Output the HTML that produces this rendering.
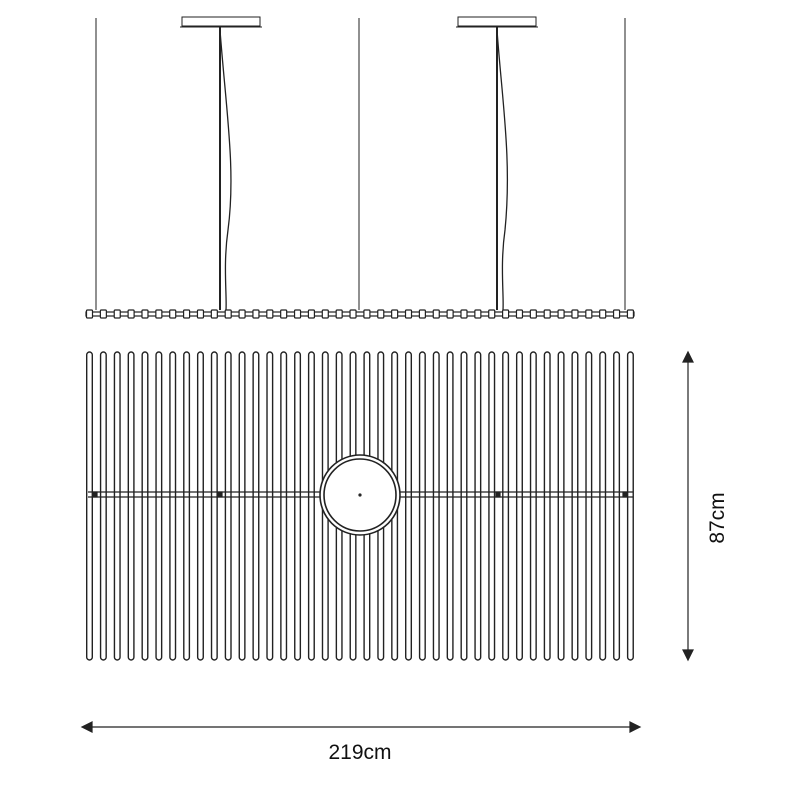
<!DOCTYPE html>
<html><head><style>html,body{margin:0;padding:0;background:#fff}svg{display:block}</style></head>
<body>
<svg id="s" width="800" height="800" viewBox="0 0 800 800" xmlns="http://www.w3.org/2000/svg" font-family="Liberation Sans, sans-serif">
<g stroke="#222" fill="none" stroke-width="1">
<line x1="96" y1="18" x2="96" y2="310"/>
<line x1="359" y1="18" x2="359" y2="310"/>
<line x1="625" y1="18" x2="625" y2="310"/>
<path d="M182 17 H260 V26 H182 Z" fill="#fff"/>
<line x1="180" y1="27" x2="262" y2="27"/>
<path d="M458 17 H536 V26 H458 Z" fill="#fff"/>
<line x1="456" y1="27" x2="538" y2="27"/>
<line x1="220" y1="27" x2="220" y2="310" stroke-width="2"/>
<line x1="497" y1="27" x2="497" y2="310" stroke-width="2"/>
<path d="M220 30 C226 110 236 170 228 230 C223 265 227 295 226 310" stroke-width="1.3"/>
<path d="M497 30 C502 100 512 160 505 230 C500 265 504 295 503 310" stroke-width="1.3"/>
</g>
<g id="bar" stroke="#222" fill="#fff" stroke-width="1.2"></g>
<g id="tubes" stroke="#222" fill="#fff" stroke-width="1.4"></g>
<g stroke="#222" stroke-width="1.2">
<line x1="88" y1="492" x2="633" y2="492"/>
<line x1="88" y1="497" x2="633" y2="497"/>
<rect x="93" y="492" width="4" height="5" fill="#222"/>
<rect x="218" y="492" width="4" height="5" fill="#222"/>
<rect x="496" y="492" width="4" height="5" fill="#222"/>
<rect x="623" y="492" width="4" height="5" fill="#222"/>
<circle cx="360" cy="495" r="40" fill="#fff" stroke-width="1.6"/>
<circle cx="360" cy="495" r="36" fill="#fff" stroke-width="1.6"/>
<circle cx="360" cy="495" r="1" fill="#555"/>
<line x1="688" y1="354" x2="688" y2="658"/>
<path d="M683 362 L688 352 L693 362 Z M683 650 L688 660 L693 650 Z" fill="#222"/>
<line x1="84" y1="727" x2="638" y2="727"/>
<path d="M92 722 L82 727 L92 732 Z M630 722 L640 727 L630 732 Z" fill="#222"/>
</g>
<text x="360" y="759" font-size="21" text-anchor="middle" fill="#111">219cm</text>
<text transform="translate(724,518) rotate(-90)" font-size="21" text-anchor="middle" fill="#111">87cm</text>
</svg>
<script>
var ns="http://www.w3.org/2000/svg",t=document.getElementById("tubes"),b=document.getElementById("bar");
var b1=document.createElementNS(ns,"rect");b1.setAttribute("x",86);b1.setAttribute("y",312);b1.setAttribute("width",548);b1.setAttribute("height",4);b.appendChild(b1);
for(var i=0;i<40;i++){var cx=89.5+i*13.87;
var r=document.createElementNS(ns,"rect");r.setAttribute("x",cx-2.8);r.setAttribute("y",352);r.setAttribute("width",5.6);r.setAttribute("height",308);r.setAttribute("rx",2.8);t.appendChild(r);
var k=document.createElementNS(ns,"rect");k.setAttribute("x",cx-3);k.setAttribute("y",310);k.setAttribute("width",6);k.setAttribute("height",8);k.setAttribute("rx",1);b.appendChild(k);}
</script>
</body></html>
